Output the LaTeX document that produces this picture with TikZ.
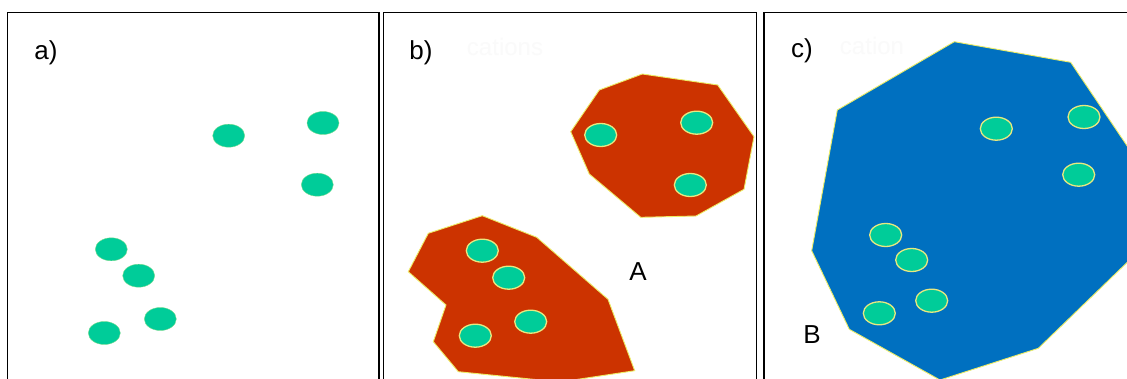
\documentclass[tikz,border=0pt]{standalone}
\usepackage{fontspec}
\setmainfont{Liberation Sans}
\usetikzlibrary{shapes.geometric}
\definecolor{dotgreen}{HTML}{00CC99}
\definecolor{rimyellow}{HTML}{E8E880}
\definecolor{clusterred}{HTML}{CC3300}
\definecolor{clusterblue}{HTML}{0070C0}
\tikzset{
  panel/.style={draw=black, line width=1.5pt},
  dot/.style={ellipse, fill=dotgreen, minimum width=32pt, minimum height=23pt, inner sep=0pt},
  dotrim/.style={dot, draw=rimyellow, line width=1.3pt},
  dotfaint/.style={dot, draw=rimyellow!50!dotgreen, line width=0.4pt},
  redarea/.style={fill=clusterred, draw=rimyellow!80!yellow, line width=0.9pt, line join=miter},
  bluearea/.style={fill=clusterblue, draw=rimyellow!80!yellow, line width=0.9pt},
  lbl/.style={font=\fontsize{26}{30}\selectfont, text=black, inner sep=0pt},
  ghost/.style={font=\fontsize{24}{28}\selectfont, text=black!2, inner sep=0pt}
}
\begin{document}
\begin{tikzpicture}[x=1pt,y=-1pt]
\useasboundingbox (0,0) rectangle (1127,379);
\clip (0,0) rectangle (1127,379);
\fill[white] (0,0) rectangle (1127,379);
% panels
\draw[panel] (7.5,12.5) rectangle (379,400);
\draw[panel] (383.5,12.5) rectangle (756.5,400);
\draw[panel] (764,12.5) rectangle (1140,400);
% labels
\node[lbl] (la) at (46,53) {a)};
\node[lbl] (lb) at (421,53) {b)};
\node[lbl] (lc) at (802,51) {c)};
\node[ghost] (gb) at (505,47) {cations};
\node[ghost] (gc) at (872,46) {cation};
% panel a dots
\node[dotfaint] (a1) at (228.7,135.7) {};
\node[dotfaint] (a2) at (323,123) {};
\node[dotfaint] (a3) at (317.3,184.7) {};
\node[dotfaint] (a4) at (111.3,249.3) {};
\node[dotfaint] (a5) at (138.7,275.7) {};
\node[dotfaint] (a6) at (160.3,319) {};
\node[dotfaint] (a7) at (104.3,333) {};
% panel b clusters
\draw[redarea] (570.7,131.7) -- (599.3,90) -- (642.3,74) -- (717.7,85) -- (754,136.7)
  -- (744,189.3) -- (696,216) -- (640.7,217.3) -- (589.3,174) -- cycle;
\draw[redarea] (408.3,271.7) -- (428.3,233.3) -- (482.3,215.7) -- (536.7,237.3)
  -- (608,299.3) -- (634.7,370.7) -- (560,382) -- (458.3,371.7) -- (433.3,341.7)
  -- (446,305) -- cycle;
\node[dotrim] (b1) at (600.7,135) {};
\node[dotrim] (b2) at (696.7,122.7) {};
\node[dotrim] (b3) at (690.3,185) {};
\node[dotrim] (b4) at (482.3,250.7) {};
\node[dotrim] (b5) at (508.7,277.7) {};
\node[dotrim] (b6) at (530.7,321.7) {};
\node[dotrim] (b7) at (475.3,335.7) {};
\node[lbl] (A) at (638,272) {A};
% panel c cluster
\draw[bluearea] (837.3,110) -- (954.3,41.7) -- (1070.7,62.3) -- (1140,165)
  -- (1140,250) -- (1038.3,348.3) -- (940,380) -- (849.3,329.3) -- (811.7,250.7) -- cycle;
\node[dotrim] (c1) at (996.3,128.7) {};
\node[dotrim] (c2) at (1084,117) {};
\node[dotrim] (c3) at (1078.7,174.7) {};
\node[dotrim] (c4) at (885.7,235) {};
\node[dotrim] (c5) at (911.7,260) {};
\node[dotrim] (c6) at (931.7,300.7) {};
\node[dotrim] (c7) at (879.3,313.3) {};
\node[lbl] (B) at (812,335) {B};
\end{tikzpicture}
\end{document}
